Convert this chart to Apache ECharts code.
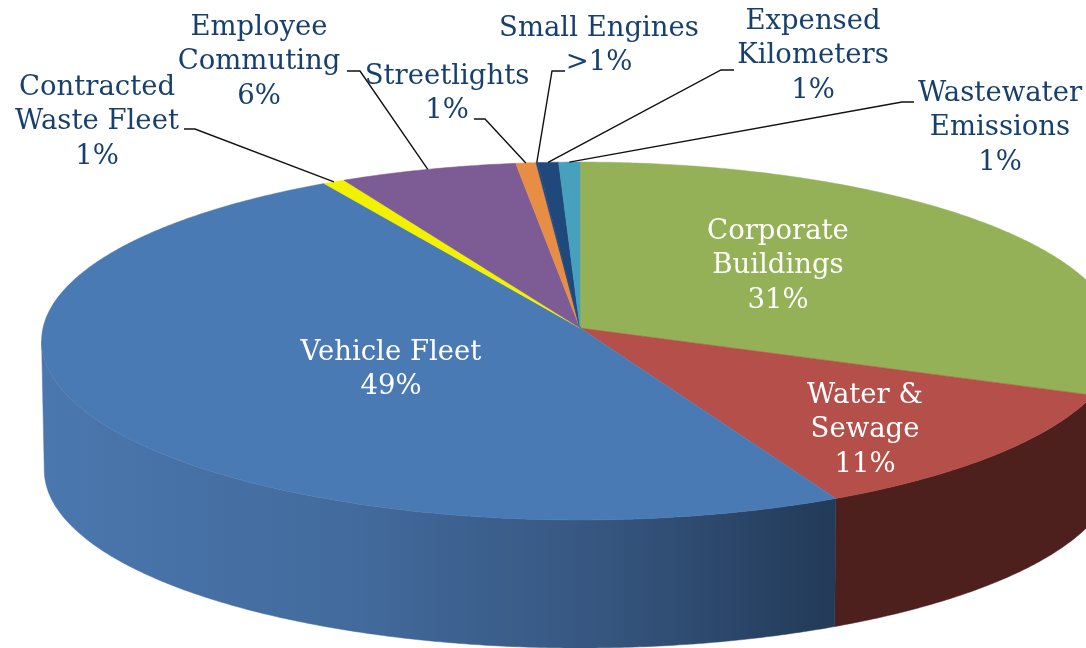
<!DOCTYPE html>
<html>
<head>
<meta charset="utf-8">
<title>Emissions by sector</title>
<style>
  html, body { margin: 0; padding: 0; background: #fff; }
  #chart { width: 1086px; height: 648px; }
</style>
<script src="https://cdn.jsdelivr.net/npm/echarts@6/dist/echarts.min.js"></script>
</head>
<body>
<div id="chart"></div>
<script>
// values, clockwise from 12 o'clock
var sliceNames = ['Corporate\nBuildings', 'Water &\nSewage', 'Vehicle Fleet', 'Contracted\nWaste Fleet',
  'Employee\nCommuting', 'Streetlights', 'Small Engines', 'Expensed\nKilometers', 'Wastewater\nEmissions'];
var sliceValues = [31, 11.65, 48.9, 0.7, 5.7, 0.65, 0.05, 0.67, 0.68];
var sliceLabels = ['31%', '11%', '49%', '1%', '6%', '1%', '>1%', '1%', '1%'];

var topColors = ['#95b157', '#b54f4a', '#4a7ab4', '#f2f200', '#7d5c96', '#e88e44', '#1f497d', '#1f497d', '#47a1bd'];
var sideColors = ['#4a5a2b', '#4e201d', null, '#7a7a00', '#3e2e4b', '#74471f', '#10243e', '#10243e', '#24505e'];

// label centre + leader elbow, same order as sliceNames. no elbow = label sits on the slice
var labelLayout = [
  { x: 778, y: 266, color: '#fff' },
  { x: 865, y: 430, color: '#fff' },
  { x: 391, y: 370, color: '#fff' },
  { x: 97, y: 122, from: [184, 129], elbow: [195, 129] },
  { x: 259, y: 62, from: [347, 71], elbow: [360, 71] },
  { x: 447, y: 94, from: [474, 119], elbow: [485, 119] },
  { x: 599, y: 46, from: [565, 71], elbow: [552, 71] },
  { x: 813, y: 56, from: [734, 70], elbow: [721, 70] },
  { x: 1000, y: 128, from: [914, 102], elbow: [902, 102] }
];

var APEX_X = 580, APEX_Y = 328;
var RX = 537, RY = 178, PERSP = 0.0726, DEPTH = 129, BOTTOM_SCALE = 0.995;
var FONT = '"DejaVu Serif", serif';

// where the rim turns back on itself (cos = -PERSP), the wall stops there
var WALL_FROM = 94.2, WALL_TO = 265.8;

// point on the pie rim, deg clockwise from the back. perspective makes the near side bigger
function rim(deg, bottom) {
  var a = deg * Math.PI / 180;
  var u = Math.sin(a), v = -Math.cos(a);
  var w = 1 - PERSP * v;
  var x = RX * u / w, y = RY * v / w;
  if (bottom) {
    return [APEX_X + x * BOTTOM_SCALE, APEX_Y + y * BOTTOM_SCALE + DEPTH];
  }
  return [APEX_X + x, APEX_Y + y];
}

function rimPoints(from, to, bottom) {
  var pts = [];
  for (var d = from; d < to; d += 0.5) {
    pts.push(rim(d, bottom));
  }
  pts.push(rim(to, bottom));
  return pts;
}

// start and end angle of each slice
var total = sliceValues.reduce(function (s, v) { return s + v; }, 0);
var sliceAngles = [];
var acc = 0;
sliceValues.forEach(function (v) {
  sliceAngles.push([acc / total * 360, (acc + v) / total * 360]);
  acc += v;
});

var fleetSide = new echarts.graphic.LinearGradient(45, 0, 836, 0, [
  { offset: 0, color: '#4a77ae' },
  { offset: 0.4, color: '#426a9c' },
  { offset: 0.7, color: '#365680' },
  { offset: 1, color: '#233a58' }
], true);

function renderSide(params, api) {
  var i = api.value(0);
  var from = Math.max(api.value(1), WALL_FROM);
  var to = Math.min(api.value(2), WALL_TO);
  if (from >= to) {
    return null;
  }
  var pts = rimPoints(from, to, false).concat(rimPoints(from, to, true).reverse());
  return {
    type: 'polygon',
    shape: { points: pts },
    style: { fill: sideColors[i] || fleetSide, stroke: sideColors[i] || fleetSide, lineWidth: 0.5 }
  };
}

function renderTop(params, api) {
  var i = api.value(0);
  var pts = [[APEX_X, APEX_Y]].concat(rimPoints(api.value(1), api.value(2), false));
  return {
    type: 'polygon',
    shape: { points: pts },
    style: { fill: topColors[i], stroke: topColors[i], lineWidth: 0.5 }
  };
}

function renderLabel(params, api) {
  var i = api.value(0);
  var pos = labelLayout[i];
  var children = [];
  if (pos.elbow) {
    children.push({
      type: 'polyline',
      shape: { points: [pos.from, pos.elbow, rim((api.value(1) + api.value(2)) / 2, false)] },
      style: { stroke: '#111', lineWidth: 1.4, fill: null }
    });
  }
  children.push({
    type: 'text',
    style: {
      text: sliceNames[i] + '\n' + sliceLabels[i],
      x: pos.x,
      y: pos.y,
      align: 'center',
      verticalAlign: 'middle',
      fontFamily: FONT,
      fontSize: 27.5,
      lineHeight: 34.5,
      fill: pos.color || '#17406f'
    }
  });
  return { type: 'group', children: children };
}

var seriesData = sliceAngles.map(function (a, i) {
  return [i, a[0], a[1]];
});

var chart = echarts.init(document.getElementById('chart'));
chart.setOption({
  animation: false,
  backgroundColor: '#fff',
  series: [
    { type: 'custom', coordinateSystem: 'none', renderItem: renderSide, data: seriesData, z: 1, silent: true },
    { type: 'custom', coordinateSystem: 'none', renderItem: renderTop, data: seriesData, z: 2, silent: true },
    { type: 'custom', coordinateSystem: 'none', renderItem: renderLabel, data: seriesData, z: 3, silent: true }
  ]
});
</script>
</body>
</html>
